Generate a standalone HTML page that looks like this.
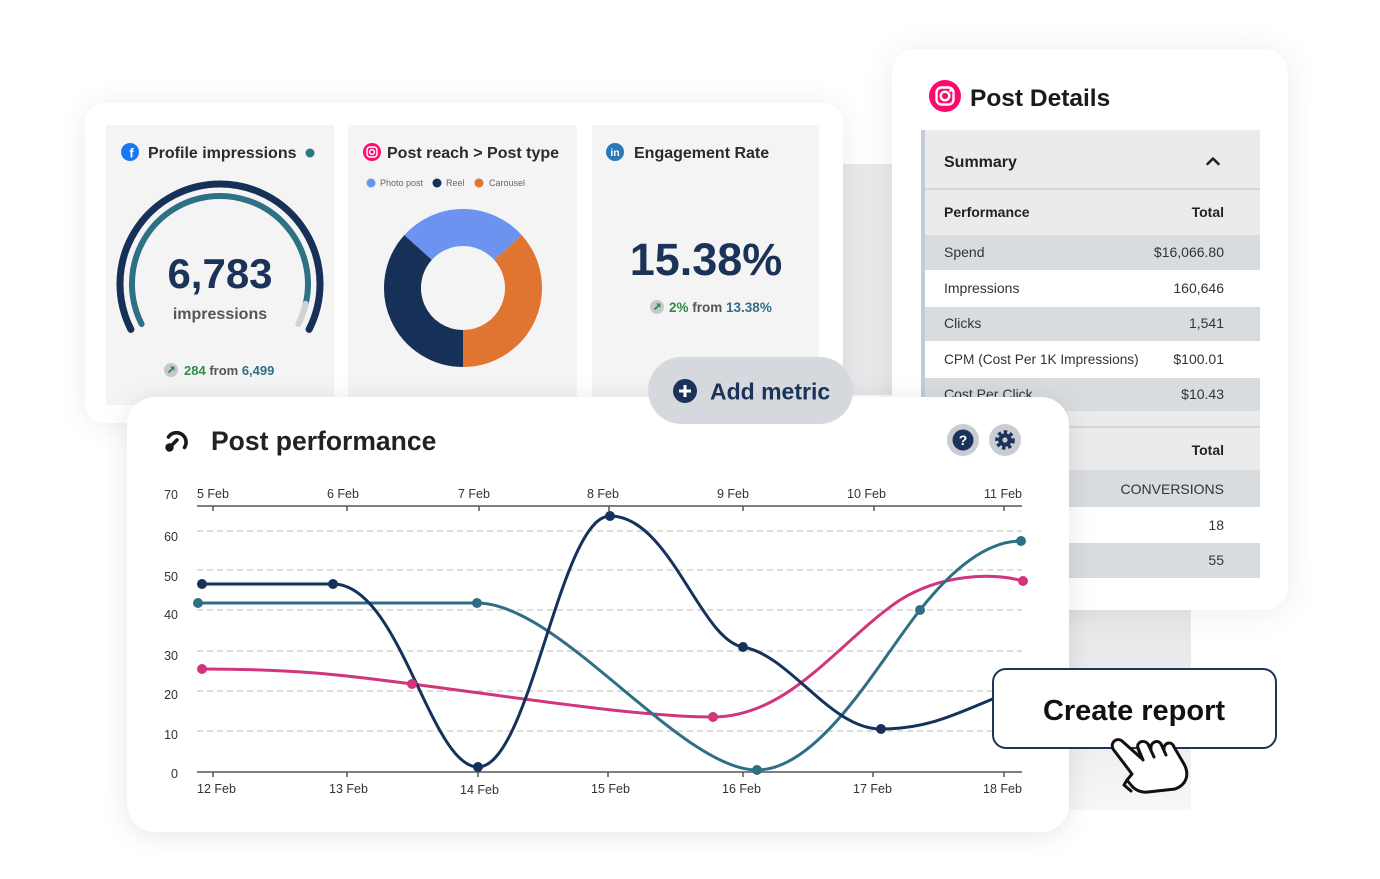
<!DOCTYPE html>
<html>
<head>
<meta charset="utf-8">
<style>
  html,body{margin:0;padding:0;background:#fff;}
  body{width:1380px;height:879px;position:relative;overflow:hidden;font-family:"Liberation Sans",sans-serif;}
  .abs{position:absolute;}
  .card{position:absolute;overflow:hidden;background:#fff;}
  .card svg,.full{position:absolute;}
  text{font-family:"Liberation Sans",sans-serif;}
</style>
</head>
<body>

<!-- background grey blocks (behind) -->
<div class="abs" style="left:843px;top:164px;width:49px;height:231px;background:#e8e9eb;"></div>
<div class="abs" style="left:1069px;top:605px;width:122px;height:205px;background:linear-gradient(#e6e8ea,#eeeff0 70%,#f7f7f7);"></div>

<!-- Post Details card -->
<div class="card" style="left:892px;top:49px;width:396px;height:561px;border-radius:24px;box-shadow:0 2px 34px rgba(0,0,0,0.08);">
<svg style="left:-892px;top:-49px" width="1380" height="879">
  <circle cx="945" cy="96" r="16" fill="#ff0a6c"/>
  <rect x="936.5" y="87.5" width="17" height="17" rx="5" fill="none" stroke="#fff" stroke-width="2.4"/>
  <circle cx="945" cy="96" r="4.3" fill="none" stroke="#fff" stroke-width="2.4"/>
  <circle cx="950.5" cy="90.6" r="1.3" fill="#fff"/>
  <text x="970" y="106" font-size="24.5" font-weight="bold" fill="#1a1a1a">Post Details</text>

  <rect x="921" y="130" width="4" height="448" fill="#c3cbd4"/>
  <rect x="925" y="130" width="335" height="58" fill="#ebebeb"/>
  <text x="944" y="167" font-size="16" font-weight="bold" fill="#222">Summary</text>
  <path d="M1207.5,164 L1213,158.5 L1218.5,164" fill="none" stroke="#222" stroke-width="2.6" stroke-linecap="round" stroke-linejoin="round"/>
  <rect x="925" y="188" width="335" height="2" fill="#d3d6da"/>
  <rect x="925" y="190" width="335" height="45" fill="#ebebeb"/>
  <text x="944" y="217" font-size="14" font-weight="bold" fill="#222">Performance</text>
  <text x="1224" y="217" font-size="14" font-weight="bold" fill="#222" text-anchor="end">Total</text>

  <rect x="925" y="235" width="335" height="35" fill="#d9dcdf"/>
  <rect x="925" y="270" width="335" height="37" fill="#ffffff"/>
  <rect x="925" y="307" width="335" height="34" fill="#d9dcdf"/>
  <rect x="925" y="341" width="335" height="37" fill="#ffffff"/>
  <rect x="925" y="378" width="335" height="33" fill="#d9dcdf"/>
  <g font-size="14" fill="#333">
    <text x="944" y="257">Spend</text><text x="1224" y="257" text-anchor="end">$16,066.80</text>
    <text x="944" y="293">Impressions</text><text x="1224" y="293" text-anchor="end">160,646</text>
    <text x="944" y="328">Clicks</text><text x="1224" y="328" text-anchor="end">1,541</text>
    <text x="944" y="364" font-size="13.7">CPM (Cost Per 1K Impressions)</text><text x="1224" y="364" text-anchor="end">$100.01</text>
    <text x="944" y="399">Cost Per Click</text><text x="1224" y="399" text-anchor="end">$10.43</text>
  </g>
  <rect x="925" y="411" width="335" height="15" fill="#ebebeb"/>
  <rect x="925" y="426" width="335" height="2" fill="#d3d6da"/>
  <rect x="925" y="428" width="335" height="42" fill="#ebebeb"/>
  <text x="1224" y="455" font-size="14" font-weight="bold" fill="#222" text-anchor="end">Total</text>
  <rect x="925" y="470" width="335" height="37" fill="#d9dcdf"/>
  <rect x="925" y="507" width="335" height="36" fill="#ffffff"/>
  <rect x="925" y="543" width="335" height="35" fill="#d9dcdf"/>
  <g font-size="14" fill="#333" text-anchor="end">
    <text x="1224" y="494">CONVERSIONS</text>
    <text x="1224" y="530">18</text>
    <text x="1224" y="565">55</text>
  </g>
</svg>
</div>

<!-- Top-left metrics card -->
<div class="card" style="left:85px;top:103px;width:758px;height:320px;border-radius:20px;box-shadow:0 2px 30px rgba(0,0,0,0.08);">
<svg style="left:-85px;top:-103px" width="1380" height="879">
  <rect x="106" y="125" width="228" height="280" fill="#f4f4f4"/>
  <rect x="348" y="125" width="229" height="280" fill="#f4f4f4"/>
  <rect x="592" y="125" width="227" height="280" fill="#f4f4f4"/>

  <!-- panel 1 -->
  <circle cx="130" cy="152" r="9" fill="#1877f2"/>
  <text x="131.5" y="157.5" font-size="13" font-weight="bold" fill="#fff" text-anchor="middle">f</text>
  <text x="148" y="158" font-size="16" font-weight="bold" fill="#2b2b2b">Profile impressions</text>
  <circle cx="310" cy="153" r="4.5" fill="#2e7489"/>
  <path d="M130.9,329.4 A100,100 0 1,1 309.1,329.4" fill="none" stroke="#163057" stroke-width="7" stroke-linecap="round"/>
  <path d="M141.6,324 A88,88 0 1,1 305.7,303.8" fill="none" stroke="#2e7185" stroke-width="6" stroke-linecap="round"/>
  <path d="M305.7,303.8 A88,88 0 0,1 298.4,324" fill="none" stroke="#cfd1d3" stroke-width="6" stroke-linecap="round"/>
  <text x="220" y="288" font-size="42" font-weight="bold" fill="#1b3358" text-anchor="middle">6,783</text>
  <text x="220" y="319" font-size="16" font-weight="bold" fill="#555" text-anchor="middle">impressions</text>
  <circle cx="171" cy="370" r="7" fill="#c5c9ce"/>
  <path d="M168.5,372.5 L173.3,367.7" stroke="#2e8b4a" stroke-width="1.8"/>
  <path d="M170,366.5 L174.5,366.5 L174.5,371 Z" fill="#2e8b4a"/>
  <text x="184" y="375" font-size="13" font-weight="bold"><tspan fill="#2e8b4a">284</tspan><tspan fill="#555"> from </tspan><tspan fill="#2f6f86">6,499</tspan></text>

  <!-- panel 2 -->
  <circle cx="372" cy="152" r="9" fill="#ff0a6c"/>
  <rect x="367" y="147" width="10" height="10" rx="3" fill="none" stroke="#fff" stroke-width="1.5"/>
  <circle cx="372" cy="152" r="2.4" fill="none" stroke="#fff" stroke-width="1.5"/>
  <text x="387" y="158" font-size="16" font-weight="bold" fill="#2b2b2b">Post reach &gt; Post type</text>
  <circle cx="371" cy="183" r="4.5" fill="#6b93ef"/>
  <text x="380" y="186" font-size="9" fill="#666">Photo post</text>
  <circle cx="437" cy="183" r="4.5" fill="#163057"/>
  <text x="446" y="186" font-size="9" fill="#666">Reel</text>
  <circle cx="479" cy="183" r="4.5" fill="#e07431"/>
  <text x="489" y="186" font-size="9" fill="#666">Carousel</text>
  <g fill="none" stroke-width="37">
    <path d="M418.04,247.52 A60.5,60.5 0 0,1 507.96,247.52" stroke="#6b93ef"/>
    <path d="M507.96,247.52 A60.5,60.5 0 0,1 463,348.5" stroke="#e07431"/>
    <path d="M463,348.5 A60.5,60.5 0 0,1 418.04,247.52" stroke="#163057"/>
  </g>

  <!-- panel 3 -->
  <circle cx="615" cy="152" r="9" fill="#2a7ab8"/>
  <text x="615" y="156" font-size="10.5" font-weight="bold" fill="#fff" text-anchor="middle">in</text>
  <text x="634" y="158" font-size="16" font-weight="bold" fill="#2b2b2b">Engagement Rate</text>
  <text x="706" y="275" font-size="45" font-weight="bold" fill="#1b3358" text-anchor="middle">15.38%</text>
  <circle cx="657" cy="307" r="7" fill="#c5c9ce"/>
  <path d="M654.5,309.5 L659.3,304.7" stroke="#2e8b4a" stroke-width="1.8"/>
  <path d="M656,303.5 L660.5,303.5 L660.5,308 Z" fill="#2e8b4a"/>
  <text x="669" y="312" font-size="13.5" font-weight="bold"><tspan fill="#2e8b4a">2%</tspan><tspan fill="#555"> from </tspan><tspan fill="#2f6f86">13.38%</tspan></text>
</svg>
</div>

<!-- Chart card -->
<div class="card" style="left:127px;top:397px;width:942px;height:435px;border-radius:28px;box-shadow:0 3px 28px rgba(0,0,0,0.10);">
<svg style="left:-127px;top:-397px" width="1380" height="879">
  <!-- title icon -->
  <path d="M168.5,437 A9.5,9.5 0 1,1 184.5,447.5" fill="none" stroke="#1a1a1a" stroke-width="3.6" stroke-linecap="round"/>
  <path d="M177,440 L170.5,446.5" stroke="#1a1a1a" stroke-width="3.6" stroke-linecap="round"/>
  <circle cx="169.5" cy="447.5" r="4.2" fill="#1a1a1a"/>
  <text x="211" y="450" font-size="26.5" font-weight="bold" fill="#222">Post performance</text>

  <!-- help / gear -->
  <circle cx="963" cy="440" r="16" fill="#c9cdd3"/>
  <circle cx="963" cy="440" r="10.5" fill="#1b3358"/>
  <text x="963" y="445" font-size="14" font-weight="bold" fill="#fff" text-anchor="middle">?</text>
  <circle cx="1005" cy="440" r="16" fill="#c9cdd3"/>
  <circle cx="1005" cy="440" r="7.8" fill="none" stroke="#1b3358" stroke-width="4" stroke-dasharray="3.2 2.69"/>
  <circle cx="1005" cy="440" r="6.8" fill="#1b3358"/>
  <circle cx="1005" cy="440" r="2.6" fill="#c9cdd3"/>

  <!-- gridlines -->
  <g stroke="#c6c6c6" stroke-width="1.3" stroke-dasharray="6 4">
    <line x1="197" y1="531" x2="1022" y2="531"/>
    <line x1="197" y1="570" x2="1022" y2="570"/>
    <line x1="197" y1="610" x2="1022" y2="610"/>
    <line x1="197" y1="651" x2="1022" y2="651"/>
    <line x1="197" y1="691" x2="1022" y2="691"/>
    <line x1="197" y1="731" x2="1022" y2="731"/>
  </g>
  <!-- axes -->
  <g stroke="#555" stroke-width="1.5">
    <line x1="197" y1="506" x2="1022" y2="506"/>
    <line x1="213" y1="506" x2="213" y2="511"/><line x1="347" y1="506" x2="347" y2="511"/>
    <line x1="479" y1="506" x2="479" y2="511"/><line x1="609" y1="506" x2="609" y2="511"/>
    <line x1="743" y1="506" x2="743" y2="511"/><line x1="874" y1="506" x2="874" y2="511"/>
    <line x1="1004" y1="506" x2="1004" y2="511"/>
    <line x1="197" y1="772" x2="1022" y2="772"/>
    <line x1="213" y1="772" x2="213" y2="777"/><line x1="347" y1="772" x2="347" y2="777"/>
    <line x1="478" y1="772" x2="478" y2="777"/><line x1="608" y1="772" x2="608" y2="777"/>
    <line x1="743" y1="772" x2="743" y2="777"/><line x1="873" y1="772" x2="873" y2="777"/>
    <line x1="1004" y1="772" x2="1004" y2="777"/>
  </g>
  <g font-size="12.5" fill="#333">
    <text x="197" y="498">5 Feb</text><text x="327" y="498">6 Feb</text><text x="458" y="498">7 Feb</text>
    <text x="587" y="498">8 Feb</text><text x="717" y="498">9 Feb</text><text x="847" y="498">10 Feb</text>
    <text x="984" y="498">11 Feb</text>
    <text x="197" y="793">12 Feb</text><text x="329" y="793">13 Feb</text><text x="460" y="794">14 Feb</text>
    <text x="591" y="793">15 Feb</text><text x="722" y="793">16 Feb</text><text x="853" y="793">17 Feb</text>
    <text x="983" y="793">18 Feb</text>
  </g>
  <g font-size="12.5" fill="#333" text-anchor="end">
    <text x="178" y="499">70</text><text x="178" y="541">60</text><text x="178" y="581">50</text>
    <text x="178" y="619">40</text><text x="178" y="660">30</text><text x="178" y="699">20</text>
    <text x="178" y="739">10</text><text x="178" y="778">0</text>
  </g>

  <!-- series -->
  <g fill="none" stroke-width="3" stroke-linecap="round">
    <path d="M202,669 C300,669 350,676 412,684 C520,698 640,717 713,717 C790,717 840,640 900,600 C940,575 990,572 1023,581" stroke="#d1357b"/>
    <path d="M198,603 L477,603 C560,603 680,770 757,770 C820,770 880,660 920,610 C950,572 985,541 1021,541" stroke="#2f6f85"/>
    <path d="M202,584 L333,584 C400,584 430,767 478,767 C530,767 560,516 610,516 C670,516 700,640 743,647 C790,655 830,729 881,729 C930,729 960,712 1000,696" stroke="#15325b"/>
  </g>
  <g fill="#d1357b"><circle cx="202" cy="669" r="5"/><circle cx="412" cy="684" r="5"/><circle cx="713" cy="717" r="5"/><circle cx="1023" cy="581" r="5"/></g>
  <g fill="#2f6f85"><circle cx="198" cy="603" r="5"/><circle cx="477" cy="603" r="5"/><circle cx="757" cy="770" r="5"/><circle cx="920" cy="610" r="5"/><circle cx="1021" cy="541" r="5"/></g>
  <g fill="#15325b"><circle cx="202" cy="584" r="5"/><circle cx="333" cy="584" r="5"/><circle cx="478" cy="767" r="5"/><circle cx="610" cy="516" r="5"/><circle cx="743" cy="647" r="5"/><circle cx="881" cy="729" r="5"/></g>
</svg>
</div>

<!-- Add metric pill -->
<div class="card" style="left:648px;top:357px;width:205px;height:67px;border-radius:34px;background:#d5d9de;">
<svg style="left:-648px;top:-357px" width="1380" height="879">
  <circle cx="685" cy="391" r="12" fill="#1b3358"/>
  <path d="M679,391 H691 M685,385 V397" stroke="#fff" stroke-width="3"/>
  <text x="710" y="399.5" font-size="23" font-weight="bold" fill="#1b3358">Add metric</text>
</svg>
</div>

<!-- Create report button -->
<div class="abs" style="left:992px;top:668px;width:285px;height:81px;box-sizing:border-box;border:2px solid #1d3557;border-radius:14px;background:#fff;"></div>
<svg class="full" style="left:0;top:0" width="1380" height="879">
  <text x="1134" y="720" font-size="29" font-weight="bold" fill="#111" text-anchor="middle">Create report</text>
  <g fill="#fff" stroke="#111" stroke-width="3" stroke-linejoin="round" stroke-linecap="round">
    <path d="M1113,749 C1110,742 1117,737 1122,741 L1141,758 L1138,748 C1136,742 1144,739 1148,744 L1151,749 C1150,742 1158,739 1161,744 L1164,749 C1164,742 1172,741 1174,747 L1184,764 C1190,775 1186,785 1175,789 L1148,792 C1140,793 1134,789 1131,785 L1127,780 L1132,774 Z"/>
    <path d="M1148,744 L1154,757 M1161,744 L1166,755 M1138,748 L1143,760" fill="none"/>
    <path d="M1127,780 L1124,785 L1131,791" fill="none"/>
  </g>
</svg>

</body>
</html>
